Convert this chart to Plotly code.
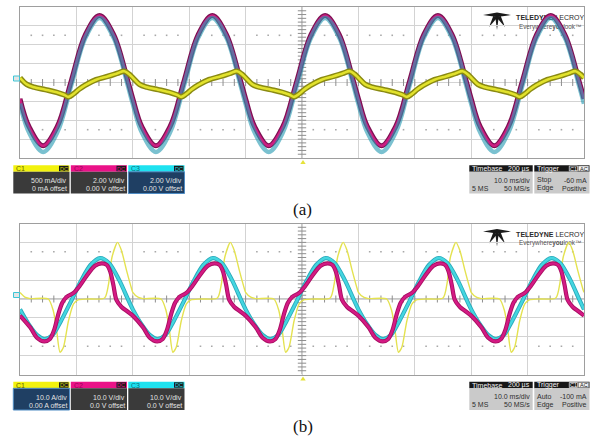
import numpy as np
import plotly.graph_objects as go

W, H = 590, 438

# ---------------------------------------------------------------- data ----
# Both captures hold five periods over the ten horizontal divisions.
cycle_starts = [-5.0, -3.0, -1.0, 1.0, 3.0]          # div

# (a) one period per channel, time in div from the start of the period
a_t_voltage = [0.0, 0.16, 0.41, 0.66, 0.91, 1.16, 1.41, 1.66, 1.91, 2.0]
a_c2_volts = [-1.72, -4.68, -6.70, -4.68, 0.20, 5.08, 7.10, 5.08, 0.20, -1.72]
a_c3_volts = [-2.24, -5.28, -7.36, -5.28, -0.26, 4.76, 6.84, 4.76, -0.26, -2.24]
a_t_current = [0.0, 0.12, 0.25, 0.45, 0.65, 0.78, 0.86, 0.95, 1.05, 1.15,
               1.35, 1.55, 1.72, 1.85, 1.93, 2.0]
a_c1_amps = [0.125, -0.05, -0.125, -0.19, -0.26, -0.325, -0.38, -0.30, -0.175,
             -0.075, 0.075, 0.16, 0.24, 0.30, 0.225, 0.125]
a_per_div = {"C1": 0.5, "C2": 2.0, "C3": 2.0}

# (b) one period per channel
b_t_c1 = [0.0, 0.1, 0.18, 0.5, 0.59, 0.65, 0.71, 0.77, 0.86, 0.95, 1.03, 1.2,
          1.5, 1.57, 1.63, 1.73, 1.80, 1.89, 1.98, 2.0]
b_c1_amps = [3.5, 0.8, 0.2, 0.0, -6.2, -16.8, -28.2, -25.6, -11.5, -2.6, -0.5,
             0.0, 0.5, 7.9, 22.0, 30.0, 25.6, 15.0, 5.3, 3.5]
b_t_c2 = [0.0, 0.18, 0.3, 0.43, 0.53, 0.61, 0.68, 0.75, 0.83, 0.95, 1.06, 1.18,
          1.33, 1.45, 1.54, 1.6, 1.655, 1.71, 1.8, 1.9, 2.0]
b_c2_volts = [-8.8, -15.0, -20.5, -22.5, -21.2, -16.0, -8.0, -2.0, 1.2, 3.2,
              7.0, 12.2, 17.6, 18.9, 18.0, 14.5, 7.5, -0.5, -4.2, -6.5, -8.8]
b_t_c3 = [0.0, 0.15, 0.3, 0.44, 0.58, 0.72, 0.9, 1.08, 1.25, 1.42, 1.58, 1.76,
          1.92, 2.0]
b_c3_volts = [-5.5, -13.2, -19.0, -21.2, -19.0, -12.0, -1.5, 9.5, 18.0, 21.7,
              19.0, 10.0, -0.5, -5.5]
b_per_div = {"C1": 10.0, "C2": 10.0, "C3": 10.0}

# readout labels
a_channel_text = [("C1", "500 mA/div", "0 mA offset"),
                  ("C2", "2.00 V/div", "0.00 V offset"),
                  ("C3", "2.00 V/div", "0.00 V offset")]
b_channel_text = [("C1", "10.0 A/div", "0.00 A offset"),
                  ("C2", "10.0 V/div", "0.0 V offset"),
                  ("C3", "10.0 V/div", "0.0 V offset")]
timebase_text = ("Timebase", "200 µs", "10.0 ms/div", "5 MS", "50 MS/s")
a_trigger_text = ("Trigger", "Stop", "-60 mA", "Edge", "Positive")
b_trigger_text = ("Trigger", "Auto", "-100 mA", "Edge", "Positive")
panel_captions = ["(a)", "(b)"]

# ------------------------------------------------------------- helpers ----
GRID_X = (20, 584)
PANEL_TOP = [7, 223.5]          # pixel top of each grid
GRID_H = 151.0
SANS = "Liberation Sans"
FS = 7


def tile(t, v, per_div):
    xs, ys = [], []
    for k, s in enumerate(cycle_starts):
        n = len(t) if k == len(cycle_starts) - 1 else len(t) - 1
        xs += [s + tt for tt in t[:n]]
        ys += [vv / per_div for vv in v[:n]]
    return xs, ys


def px(x):
    return x / W


def py(y):
    return 1 - y / H


shapes, annotations = [], []


def rect(x0, y0, x1, y1, fill, line_color=None, lw=0):
    shapes.append(dict(type="rect", xref="paper", yref="paper",
                       x0=px(x0), x1=px(x1), y0=py(y1), y1=py(y0),
                       fillcolor=fill, layer="above",
                       line=dict(width=lw, color=line_color or fill)))


def label(x, y, s, size=FS, color="#e6e6e6", anchor="left", family=SANS):
    annotations.append(dict(xref="paper", yref="paper", x=px(x), y=py(y),
                            text=s, showarrow=False, xanchor=anchor,
                            yanchor="middle", borderpad=0,
                            font=dict(size=size, color=color, family=family)))


fig = go.Figure()

for p, top in enumerate(PANEL_TOP):
    xa = "x" if p == 0 else "x2"
    ya = "y" if p == 0 else "y2"

    # logo lettering, drawn under the traces
    fig.add_trace(go.Scatter(
        x=[4.40, 4.40], y=[3.40, 2.92], mode="text", xaxis=xa, yaxis=ya,
        text=["<b>TELEDYNE</b> LECROY", "Everywhere<b>you</b>look™"],
        textfont=dict(family=SANS, size=[7, 6.3], color=["#2a2a2a", "#555555"]),
        hoverinfo="skip"))

    # dotted rows at +/- 2.5 div
    dots = [v for v in np.round(np.arange(-4.8, 5.0, 0.2), 2) if abs(v - round(v)) > 0.05]
    fig.add_trace(go.Scatter(
        x=dots * 2, y=[2.5] * len(dots) + [-2.5] * len(dots), mode="markers",
        marker=dict(symbol="square", size=1.6, color="#a8a8a8", line_width=0),
        xaxis=xa, yaxis=ya, hoverinfo="skip"))
    # minor ticks on the centre cross-hair
    hx = np.round(np.arange(-4.8, 4.9, 0.2), 2)
    fig.add_trace(go.Scatter(
        x=hx, y=[0] * len(hx), mode="markers", xaxis=xa, yaxis=ya,
        marker=dict(symbol="line-ns", size=5, line=dict(width=1, color="#8e8e8e")),
        hoverinfo="skip"))
    vy = np.round(np.arange(-3.8, 3.9, 0.2), 2)
    fig.add_trace(go.Scatter(
        x=[0] * len(vy), y=vy, mode="markers", xaxis=xa, yaxis=ya,
        marker=dict(symbol="line-ew", size=6, line=dict(width=1, color="#8e8e8e")),
        hoverinfo="skip"))

# ---- (a) traces
x2, y2 = tile(a_t_voltage, a_c2_volts, a_per_div["C2"])
x3, y3 = tile(a_t_voltage, a_c3_volts, a_per_div["C3"])
x1, y1 = tile(a_t_current, a_c1_amps, a_per_div["C1"])
fig.add_trace(go.Scatter(x=x2, y=y2, mode="lines",
                         line=dict(color="#7c1052", width=5, shape="spline"),
                         xaxis="x", yaxis="y", hoverinfo="skip"))
fig.add_trace(go.Scatter(x=x2, y=y2, mode="lines",
                         line=dict(color="#cc1f82", width=2.5, shape="spline"),
                         xaxis="x", yaxis="y", hoverinfo="skip"))
fig.add_trace(go.Scatter(x=x3, y=y3, mode="lines", opacity=0.62,
                         line=dict(color="#2a9cb4", width=4.6, shape="spline"),
                         xaxis="x", yaxis="y", hoverinfo="skip"))
fig.add_trace(go.Scatter(x=x1, y=y1, mode="lines",
                         line=dict(color="#8a8a12", width=5.5, shape="spline"),
                         xaxis="x", yaxis="y", hoverinfo="skip"))
fig.add_trace(go.Scatter(x=x1, y=y1, mode="lines",
                         line=dict(color="#e2e22c", width=2.6, shape="spline"),
                         xaxis="x", yaxis="y", hoverinfo="skip"))

# ---- (b) traces
x1, y1 = tile(b_t_c1, b_c1_amps, b_per_div["C1"])
x3, y3 = tile(b_t_c3, b_c3_volts, b_per_div["C3"])
x2, y2 = tile(b_t_c2, b_c2_volts, b_per_div["C2"])
fig.add_trace(go.Scatter(x=x1, y=y1, mode="lines",
                         line=dict(color="#e4e250", width=1.4, shape="spline", smoothing=0.7),
                         xaxis="x2", yaxis="y2", hoverinfo="skip"))
for xs, ys, outer, inner in [(x3, y3, "#2aa9ba", "#44d6e0"),
                             (x2, y2, "#a80e62", "#d41a84")]:
    fig.add_trace(go.Scatter(x=xs, y=ys, mode="lines",
                             line=dict(color=outer, width=4.2, shape="spline", smoothing=0.8),
                             xaxis="x2", yaxis="y2", hoverinfo="skip"))
    fig.add_trace(go.Scatter(x=xs, y=ys, mode="lines",
                             line=dict(color=inner, width=2.4, shape="spline", smoothing=0.8),
                             xaxis="x2", yaxis="y2", hoverinfo="skip"))

# ---------------------------------------------------------- decorations ----
logo_parts = [
    [(483, 15), (497, 12.5), (497, 17)],
    [(511, 15), (497, 12.5), (497, 17)],
    [(495, 15), (499, 15), (497, 30)],
    [(493.5, 15.5), (497, 18), (489, 27)],
    [(500.5, 15.5), (497, 18), (505, 27)],
]
ACCENT = {"C1": ("#f2f20e", "#5e5e00", "#d8d800"),
          "C2": ("#ea1288", "#9a0058", "#e0188a"),
          "C3": ("#1ee2f0", "#0b6e7c", "#20d8e8")}

for p, top in enumerate(PANEL_TOP):
    off = top - PANEL_TOP[0]
    xref = "x" if p == 0 else "x2"
    yref = "y" if p == 0 else "y2"
    mid = top + GRID_H / 2
    # centre cross-hair
    shapes.append(dict(type="line", xref=xref, yref=yref, x0=-5, x1=5, y0=0, y1=0,
                       line=dict(color="#8e8e8e", width=1), layer="below"))
    shapes.append(dict(type="line", xref=xref, yref=yref, x0=0, x1=0, y0=-4, y1=4,
                       line=dict(color="#8e8e8e", width=1), layer="below"))
    # logo mark
    for poly in logo_parts:
        d = "M " + " L ".join(f"{(x - 302) / 56.4:.4f},{(82.5 - y) / 18.875:.4f}"
                              for x, y in poly) + " Z"
        shapes.append(dict(type="path", xref=xref, yref=yref, path=d,
                           fillcolor="#1a1a1a", line=dict(width=0), layer="below"))
    # ground tag on the left edge
    rect(13.5, mid - 6.5, 19.5, mid - 1.5, "#e4e4e4", "#3cc6d6", 1)
    # trigger position marker
    shapes.append(dict(type="path", xref="paper", yref="paper",
                       path=f"M {px(300.3)},{py(top + GRID_H + 6)} L {px(305.7)},{py(top + GRID_H + 6)} "
                            f"L {px(303)},{py(top + GRID_H + 2)} Z",
                       fillcolor="#e6e23a", line=dict(width=0)))

    # channel readouts
    chans = a_channel_text if p == 0 else b_channel_text
    sel = "C3" if p == 0 else "C1"
    hy0, hy1, by1 = 165.2 + off, 171.8 + off, 193.5 + off
    for i, (name, vdiv, offs) in enumerate(chans):
        x0 = 13.3 + i * 57.5
        x1 = x0 + 56.2
        head, dark, badge = ACCENT[name]
        rect(x0, hy0, x1, hy1, head)
        if name == sel:
            rect(x0, hy1, x1, by1, "#1f3f63", "#4f8cc4", 1)
        else:
            rect(x0, hy1, x1, by1, "#3a3a3a")
        rect(x1 - 10.5, hy0 + 0.6, x1 - 1, hy1 - 0.6, "#1b1b1b")
        label(x1 - 5.7, (hy0 + hy1) / 2, "DC", size=5.5, color=badge, anchor="center")
        label(x0 + 2, (hy0 + hy1) / 2, name, color=dark)
        label(x1 - 1.5, 181.0 + off, vdiv, color="#e2e2e2", anchor="right")
        label(x1 - 1.5, 189.0 + off, offs, color="#e2e2e2", anchor="right")

    # timebase readout
    tb0, tb1 = 469.3, 532.7
    rect(tb0, hy0, tb1, hy1, "#171717")
    rect(tb0, hy1, tb1, by1, "#cacaca")
    label(tb0 + 2, (hy0 + hy1) / 2, timebase_text[0], color="#f2f2f2")
    label(tb1 - 1.5, (hy0 + hy1) / 2, timebase_text[1], color="#f2f2f2", anchor="right")
    label(tb1 - 1.5, 180.3 + off, timebase_text[2], color="#2e2e2e", anchor="right")
    label(tb0 + 2, 188.3 + off, timebase_text[3], color="#2e2e2e")
    label(tb1 - 1.5, 188.3 + off, timebase_text[4], color="#2e2e2e", anchor="right")

    # trigger readout
    tr = a_trigger_text if p == 0 else b_trigger_text
    tg0, tg1 = 534.3, 589.5
    rect(tg0, hy0, tg1, hy1, "#171717")
    rect(tg0, hy1, tg1, by1, "#cacaca")
    label(tg0 + 2, (hy0 + hy1) / 2, tr[0], color="#f2f2f2")
    rect(569.3, hy0 + 0.8, 577.6, hy1 - 0.8, "#1a1a1a", "#e0e0e0", 0.8)
    label(573.45, (hy0 + hy1) / 2, "C1", size=5.5, color="#f0f0f0", anchor="center")
    rect(578.4, hy0 + 0.8, 588.6, hy1 - 0.8, "#f0f0f0", "#909090", 0.6)
    label(583.5, (hy0 + hy1) / 2, "AC", size=5.5, color="#202020", anchor="center")
    label(tg0 + 2, 180.3 + off, tr[1], color="#2e2e2e")
    label(tg1 - 1.5, 180.3 + off, tr[2], color="#2e2e2e", anchor="right")
    label(tg0 + 2, 188.3 + off, tr[3], color="#2e2e2e")
    label(tg1 - 1.5, 188.3 + off, tr[4], color="#2e2e2e", anchor="right")

    # caption
    label(302.5, 210 + off, panel_captions[p], size=17, color="#111111",
          anchor="center", family="Liberation Serif")

# ---------------------------------------------------------------- axes ----
axis_common = dict(showgrid=True, gridcolor="#d3d3d3", gridwidth=1, zeroline=False,
                   showline=True, mirror=True, linecolor="#9e9e9e", linewidth=1,
                   showticklabels=False, ticks="", fixedrange=True)
xdom = [px(GRID_X[0]), px(GRID_X[1])]
fig.update_layout(
    width=W, height=H, margin=dict(l=0, r=0, t=0, b=0),
    paper_bgcolor="white", plot_bgcolor="white", showlegend=False,
    xaxis=dict(domain=xdom, range=[-5, 5], dtick=1, anchor="y", **axis_common),
    yaxis=dict(domain=[py(PANEL_TOP[0] + GRID_H), py(PANEL_TOP[0])], range=[-4, 4],
               dtick=1, anchor="x", **axis_common),
    xaxis2=dict(domain=xdom, range=[-5, 5], dtick=1, anchor="y2", **axis_common),
    yaxis2=dict(domain=[py(PANEL_TOP[1] + GRID_H), py(PANEL_TOP[1])], range=[-4, 4],
                dtick=1, anchor="x2", **axis_common),
    shapes=shapes, annotations=annotations,
)

fig.write_html("out.html")
